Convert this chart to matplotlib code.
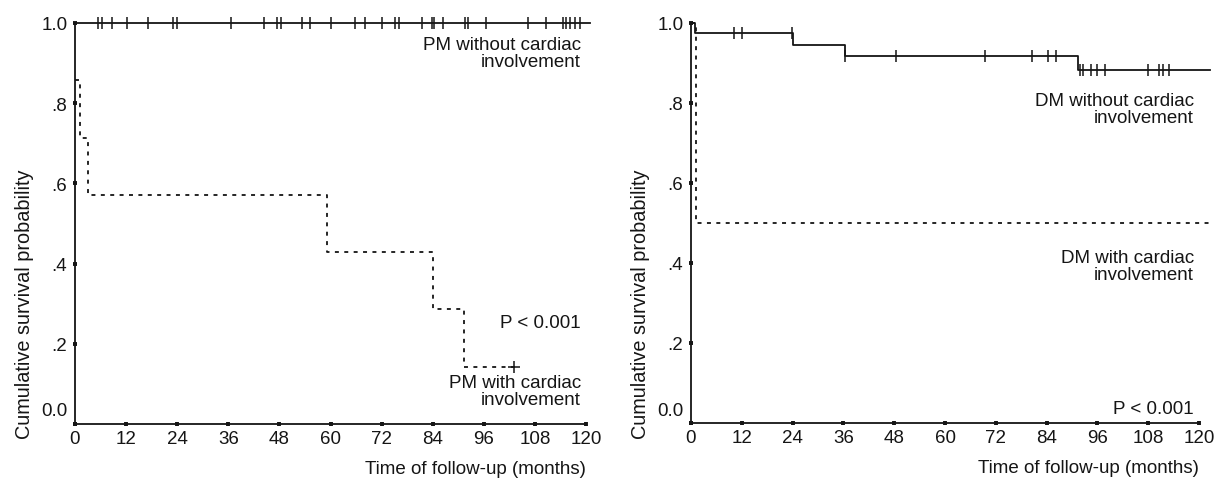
import matplotlib
matplotlib.use("Agg")
import matplotlib.pyplot as plt

plt.rcParams['font.family'] = ['Liberation Sans', 'DejaVu Sans']

# ---------------- data ----------------
x_ticks = [0, 12, 24, 36, 48, 60, 72, 84, 96, 108, 120]
y_ticks = [0.0, 0.2, 0.4, 0.6, 0.8, 1.0]
y_tick_labels = ["", ".2", ".4", ".6", ".8", "1.0"]

# PM without cardiac involvement (no events)
pm_no_times = [0]
pm_no_surv = [1.0]
pm_no_end = 121
pm_no_cens = [5.4, 6.3, 8.6, 12.2, 17.2, 23.1, 24.0, 36.7, 44.4, 47.5, 48.3,
              53.4, 55.2, 60.2, 65.7, 68.2, 72.0, 75.2, 76.1, 81.5, 83.8, 84.2,
              86.5, 91.5, 92.4, 96.5, 106.4, 110.5, 114.6, 115.3, 116.2, 117.3,
              118.6]

# PM with cardiac involvement
pm_yes_times = [0, 1.2, 3.1, 59.2, 84.1, 91.4]
pm_yes_surv = [0.857, 0.714, 0.571, 0.429, 0.286, 0.143]
pm_yes_end = 103.0
pm_yes_cens = [103.0]

# DM without cardiac involvement
dm_no_times = [0, 0.9, 24.0, 36.3, 91.3]
dm_no_surv = [1.0, 0.976, 0.945, 0.918, 0.882]
dm_no_end = 122.5
dm_no_cens = [10.2, 12.1, 23.8, 36.3, 48.4, 69.4, 80.5, 84.3, 86.3,
              92.0, 92.6, 94.4, 96.0, 97.7, 108.0, 110.5, 111.4, 113.0]

# DM with cardiac involvement
dm_yes_times = [0, 1.2]
dm_yes_surv = [1.0, 0.5]
dm_yes_end = 122.5
dm_yes_cens = []

INK = '#151515'
DASH = (0, (2.2, 3.0))
FS_TICK = 13.5
FS_TEXT = 13.5
FS_YLAB = 14.3


def km(ax, times, surv, end, cens, ls, cmarker):
    xs = list(times) + [end]
    ys = list(surv) + [surv[-1]]
    ax.step(xs, ys, where='post', color=INK, lw=1.3, linestyle=ls,
            clip_on=False, zorder=3)
    if cens:
        cy = []
        for c in cens:
            s = surv[0]
            for ti, si in zip(times, surv):
                if ti <= c:
                    s = si
            cy.append(s)
        ax.plot(cens, cy, linestyle='none', marker=cmarker, markersize=8,
                mew=1.1, color=INK, clip_on=False, zorder=4)


def style(ax):
    ax.set_xlim(0, 120)
    ax.set_ylim(0, 1.0)
    for s in ['top', 'right']:
        ax.spines[s].set_visible(False)
    for s in ['left', 'bottom']:
        ax.spines[s].set_linewidth(1.3)
        ax.spines[s].set_color(INK)
    ax.set_xticks(x_ticks)
    ax.set_xticklabels([str(v) for v in x_ticks])
    ax.set_yticks(y_ticks)
    ax.set_yticklabels(y_tick_labels)
    ax.tick_params(axis='both', direction='inout', length=3, width=2.8,
                   color=INK, labelsize=FS_TICK, labelcolor=INK)
    ax.tick_params(axis='x', pad=3)
    ax.tick_params(axis='y', pad=4)
    ax.annotate("0.0", xy=(0, 0), xycoords=('axes fraction', 'data'),
                xytext=(-8, 13), textcoords='offset pixels',
                ha='right', va='center', fontsize=FS_TICK, color=INK)
    ax.set_xlabel("Time of follow-up (months)", fontsize=FS_TEXT, color=INK,
                  ha='right')
    ax.xaxis.set_label_coords(1.0, -0.09)
    ax.set_ylabel("Cumulative survival probability", fontsize=FS_YLAB,
                  color=INK)
    ax.yaxis.set_label_coords(-0.08, 0.30)


fig = plt.figure(figsize=(12.14, 4.81), dpi=100)
axL = fig.add_axes([75 / 1214, 1 - 425 / 481, 511 / 1214, 401 / 481])
axR = fig.add_axes([691 / 1214, 1 - 424 / 481, 508 / 1214, 400 / 481])

style(axL)
style(axR)

km(axL, pm_no_times, pm_no_surv, pm_no_end, pm_no_cens, '-', '|')
km(axL, pm_yes_times, pm_yes_surv, pm_yes_end, pm_yes_cens, DASH, '+')
km(axR, dm_no_times, dm_no_surv, dm_no_end, dm_no_cens, '-', '|')
km(axR, dm_yes_times, dm_yes_surv, dm_yes_end, dm_yes_cens, DASH, '+')

axL.text(0.99, 0.925, "PM without cardiac\ninvolvement", ha='right',
         va='center', fontsize=FS_TEXT, color=INK, linespacing=1.0,
         transform=axL.transAxes)
axL.text(0.99, 0.254, "P < 0.001", ha='right', va='center', fontsize=FS_TEXT,
         color=INK, transform=axL.transAxes)
axL.text(0.99, 0.083, "PM with cardiac\ninvolvement", ha='right',
         va='center', fontsize=FS_TEXT, color=INK, linespacing=1.0,
         transform=axL.transAxes)

axR.text(0.99, 0.786, "DM without cardiac\ninvolvement", ha='right',
         va='center', fontsize=FS_TEXT, color=INK, linespacing=1.0,
         transform=axR.transAxes)
axR.text(0.99, 0.392, "DM with cardiac\ninvolvement", ha='right',
         va='center', fontsize=FS_TEXT, color=INK, linespacing=1.0,
         transform=axR.transAxes)
axR.text(0.99, 0.037, "P < 0.001", ha='right', va='center', fontsize=FS_TEXT,
         color=INK, transform=axR.transAxes)

fig.savefig("out.png", dpi=100, facecolor='white')
